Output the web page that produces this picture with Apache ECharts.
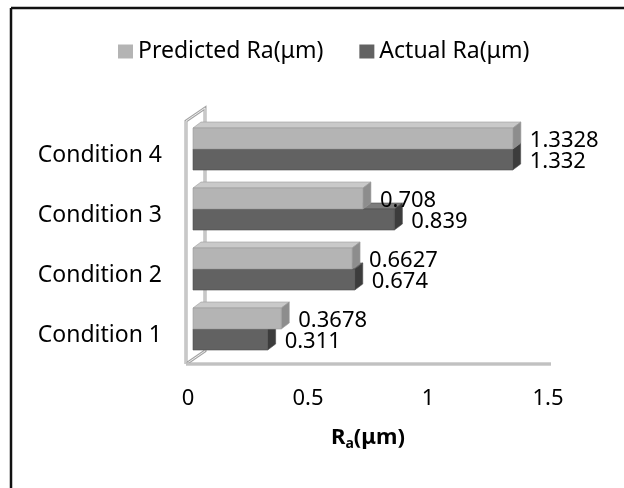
<!DOCTYPE html>
<html>
<head>
<meta charset="utf-8">
<script src="https://cdn.jsdelivr.net/npm/echarts@6/dist/echarts.min.js"></script>
<style>
  html, body { margin: 0; padding: 0; background: #fff; }
  #chart { width: 624px; height: 488px; }
</style>
</head>
<body>
<div id="chart"></div>
<script>
// Surface roughness per cutting condition
const categories = ['Condition 1', 'Condition 2', 'Condition 3', 'Condition 4'];
const predicted = [0.3678, 0.6627, 0.708, 1.3328];
const actual = [0.311, 0.674, 0.839, 1.332];
const valueTicks = [0, 0.5, 1, 1.5];

const FONT = '"Noto Sans", "Open Sans", sans-serif';

// 3D look: front faces sit slightly behind the axis plane
const SHIFT_X = 5, SHIFT_Y = -6;   // front face offset from axis plane
const DEPTH_X = 8, DEPTH_Y = -6;   // bar depth
const BAR_H = 21;

const palette = {
  predicted: { front: '#b4b4b4', top: '#c9c9c9', side: '#8d8d8d', edge: '#9c9c9c' },
  actual:    { front: '#626262', top: '#7c7c7c', side: '#3c3c3c', edge: '#4e4e4e' }
};

function barRenderer(upper, colors) {
  return function (params, api) {
    const v = api.value(0);
    const c = api.value(1);
    const p0 = api.coord([0, c]);
    const p1 = api.coord([v, c]);
    const xL = p0[0] + SHIFT_X;
    const xR = p1[0] + SHIFT_X;
    const yTop = p0[1] + SHIFT_Y + (upper ? -BAR_H : 0);
    const yBot = yTop + BAR_H;
    return {
      type: 'group',
      children: [
        {
          type: 'polygon',
          shape: { points: [[xL, yTop], [xL + DEPTH_X, yTop + DEPTH_Y], [xR + DEPTH_X, yTop + DEPTH_Y], [xR, yTop]] },
          style: { fill: colors.top, stroke: colors.edge, lineWidth: 0.6 }
        },
        {
          type: 'polygon',
          shape: { points: [[xR, yTop], [xR + DEPTH_X, yTop + DEPTH_Y], [xR + DEPTH_X, yBot + DEPTH_Y], [xR, yBot]] },
          style: { fill: colors.side, stroke: colors.edge, lineWidth: 0.6 }
        },
        {
          type: 'rect',
          shape: { x: xL, y: yTop, width: xR - xL, height: BAR_H },
          style: { fill: colors.front, stroke: colors.edge, lineWidth: 0.6 }
        },
        {
          type: 'text',
          style: {
            text: String(v),
            x: xR + 17,
            y: (yTop + yBot) / 2 + 2,
            fill: '#000',
            fontSize: 22,
            fontFamily: FONT,
            align: 'left',
            verticalAlign: 'middle'
          }
        }
      ]
    };
  };
}

const chart = echarts.init(document.getElementById('chart'), null, { renderer: 'canvas' });

const option = {
  backgroundColor: '#fff',
  animation: false,
  legend: {
    data: ['Predicted Ra(μm)', 'Actual Ra(μm)'],
    left: 113,
    top: 35,
    itemWidth: 15,
    itemHeight: 14,
    itemGap: 36,
    icon: 'rect',
    textStyle: { fontSize: 23, fontFamily: FONT, color: '#000' }
  },
  grid: { left: 188, right: 76, top: 125, bottom: 123, containLabel: false },
  xAxis: {
    type: 'value',
    min: valueTicks[0],
    max: valueTicks[valueTicks.length - 1],
    interval: valueTicks[1] - valueTicks[0],
    axisLine: { show: false },
    axisTick: { show: false },
    splitLine: { show: false },
    axisLabel: { margin: 23, fontSize: 22, fontFamily: FONT, color: '#000' },
    name: '{b|R}{s|a}{b|(μm)}',
    nameLocation: 'middle',
    nameGap: 60,
    nameTextStyle: {
      rich: {
        b: { fontSize: 22, fontWeight: 'bold', fontFamily: FONT, color: '#000' },
        s: { fontSize: 14, fontWeight: 'bold', fontFamily: FONT, color: '#000', padding: [12, 0, 0, 0] }
      }
    }
  },
  yAxis: {
    type: 'category',
    data: categories,
    axisLine: { show: false },
    axisTick: { show: false },
    splitLine: { show: false },
    axisLabel: { margin: 26, fontSize: 23, fontFamily: FONT, color: '#000' }
  },
  series: [
    {
      name: 'Actual Ra(μm)',
      type: 'custom',
      z: 3,
      itemStyle: { color: palette.actual.front },
      encode: { x: 0, y: 1 },
      renderItem: barRenderer(false, palette.actual),
      data: actual.map((v, i) => [v, i])
    },
    {
      name: 'Predicted Ra(μm)',
      type: 'custom',
      z: 4,
      itemStyle: { color: palette.predicted.front },
      encode: { x: 0, y: 1 },
      renderItem: barRenderer(true, palette.predicted),
      data: predicted.map((v, i) => [v, i])
    }
  ]
};

chart.setOption(option);

// Chart frame, back wall and floor edge, placed from the axes' pixel positions
const x0 = chart.convertToPixel({ xAxisIndex: 0 }, valueTicks[0]);
const xMax = chart.convertToPixel({ xAxisIndex: 0 }, valueTicks[valueTicks.length - 1]);
const rect = chart.getModel().getComponent('grid').coordinateSystem.getRect();
const wx = x0 - 2, wTop = rect.y - 4, wBot = rect.y + rect.height - 1;
const WALL_DX = 19, WALL_DY = -13;
const wallPts = [[wx, wBot], [wx, wTop], [wx + WALL_DX, wTop + WALL_DY], [wx + WALL_DX, wBot + WALL_DY], [wx, wBot]];

chart.setOption({
  graphic: [
    { type: 'polyline', z: 1, shape: { points: wallPts }, style: { stroke: '#a4a4a4', lineWidth: 3, fill: null } },
    { type: 'polyline', z: 1, shape: { points: wallPts }, style: { stroke: '#ececec', lineWidth: 1, fill: null } },
    { type: 'line', z: 1, shape: { x1: wx, y1: wBot, x2: xMax + 3, y2: wBot }, style: { stroke: '#a8a8a8', lineWidth: 3 } },
    { type: 'line', z: 1, shape: { x1: wx, y1: wBot, x2: xMax + 3, y2: wBot }, style: { stroke: '#dadada', lineWidth: 1 } },
    { type: 'line', z: 10, shape: { x1: 11, y1: 8, x2: 624, y2: 8 }, style: { stroke: '#111', lineWidth: 2.5 } },
    { type: 'line', z: 10, shape: { x1: 11, y1: 8, x2: 11, y2: 488 }, style: { stroke: '#111', lineWidth: 2.5 } }
  ]
});
</script>
</body>
</html>
